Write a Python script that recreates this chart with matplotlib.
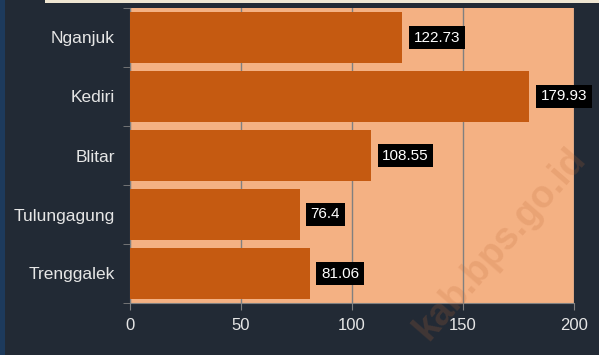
import numpy as np
import matplotlib.pyplot as plt
from matplotlib.patches import Rectangle

# data
kabupaten = ["Nganjuk", "Kediri", "Blitar", "Tulungagung", "Trenggalek"]
nilai = [122.73, 179.93, 108.55, 76.4, 81.06]
xticks = [0, 50, 100, 150, 200]

bg = "#222a35"
plt.rcParams['font.family'] = ['Liberation Sans', 'DejaVu Sans']

fig = plt.figure(figsize=(5.99, 3.55), dpi=100, facecolor=bg)
# sisa tangkapan layar di tepi kiri dan atas
fig.patches.append(Rectangle((0, 0), 5/599, 1, transform=fig.transFigure, fc="#1d3a5c", ec="none"))
fig.patches.append(Rectangle((45/599, 1 - 3/355), 1, 3/355, transform=fig.transFigure, fc="#efe6d2", ec="none"))

ax = fig.add_axes([130/599, 1 - 303/355, 444/599, 295/355])
ax.set_facecolor("#f4b183")

y = np.arange(len(kabupaten))
ax.barh(y, nilai, height=0.85, color="#c55a11", zorder=3)
ax.set_ylim(len(kabupaten) - 0.5, -0.5)
ax.set_xlim(0, 200)

# grid vertical
ax.set_xticks(xticks)
ax.grid(axis="x", color="#808080", linewidth=1, zorder=1)
ax.set_axisbelow(True)

# label nilai
for yi, v in zip(y, nilai):
    ax.annotate(f"{v:g}", (v, yi), xytext=(8, 0), textcoords="offset points",
                va="center", ha="left", color="white", fontsize=11, zorder=5,
                annotation_clip=False,
                bbox=dict(boxstyle="square,pad=0.3", fc="black", ec="none"))

ax.set_yticks(y)
ax.set_yticklabels(kabupaten)
ax.set_yticks(np.arange(-0.5, len(kabupaten)), minor=True)
ax.tick_params(axis="y", which="major", length=0, pad=11, labelcolor="#e6e6e6", labelsize=12.5)
ax.tick_params(axis="y", which="minor", length=5, color="#808080")
ax.tick_params(axis="x", length=5, color="#808080", labelcolor="#e6e6e6", labelsize=12, pad=6)

for s in ["top", "right"]:
    ax.spines[s].set_visible(False)
for s in ["left", "bottom"]:
    ax.spines[s].set_color("#808080")

# watermark
fig.text(500/599, 1 - 244/355, "kab.bps.go.id", rotation=49, fontsize=27, fontweight="bold",
         color="#c06a3a", alpha=0.2, ha="center", va="center", zorder=10)

fig.savefig("out.png", dpi=100, facecolor=bg)
